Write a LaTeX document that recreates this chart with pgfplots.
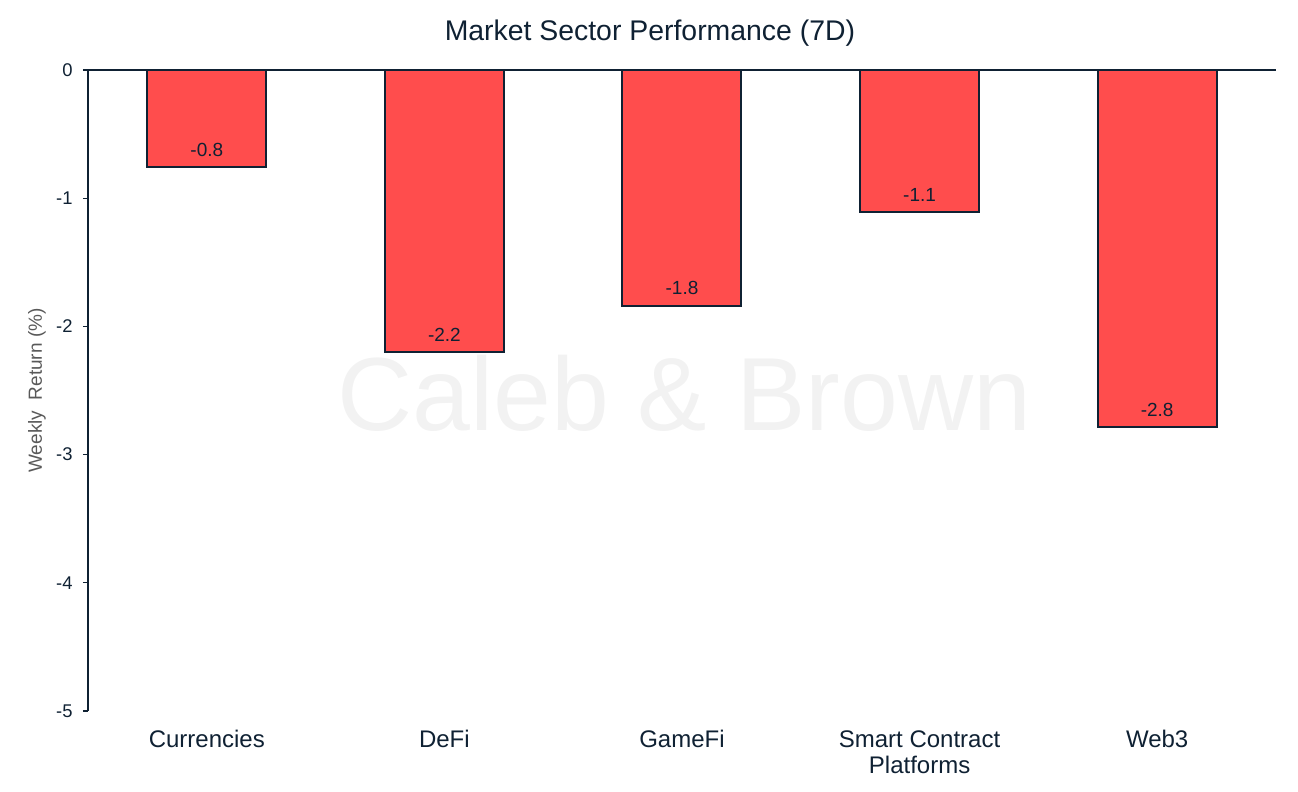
\documentclass[border=0pt]{standalone}
\usepackage{pgfplots}
\pgfplotsset{compat=1.18}
\usepackage{fontspec}
\setmainfont{Liberation Sans}
\definecolor{navy}{HTML}{0F2133}
\definecolor{barred}{HTML}{FF4D4D}
\definecolor{wm}{RGB}{242,242,242}
\definecolor{lblgray}{HTML}{595959}
\begin{document}
\begin{tikzpicture}
\begin{axis}[
    set layers,
    scale only axis,
    width=594pt,
    height=320.5pt,
    ybar,
    bar width=59.5pt,
    bar shift=0pt,
    xmin=-0.5, xmax=4.5,
    ymin=-5, ymax=0,
    xtick={0,...,4},
    xticklabels={Currencies, DeFi, GameFi, {Smart Contract\\Platforms}, Web3},
    ytick={-5,-4,...,0},
    axis y line*=left,
    axis x line*=bottom,
    x axis line style={draw=none},
    y axis line style={navy, line width=0.75pt},
    xtick style={draw=none},
    ytick style={navy, line width=0.6pt},
    tick align=outside,
    major tick length=2.5pt,
    /pgf/number format/assume math mode=true,
    x tick label style={font=\fontsize{12}{13}\selectfont, text=navy, align=center,
        anchor=north, inner sep=0pt, yshift=-7pt},
    y tick label style={font=\fontsize{9.2}{10}\selectfont, text=navy, anchor=east,
        inner sep=0pt, xshift=-5pt},
    ylabel={Weekly\ \ Return (\%)},
    ylabel style={at={(axis description cs:-0.043,0.5)}, anchor=center,
        font=\fontsize{9.5}{10}\selectfont, text=lblgray},
    nodes near coords,
    nodes near coords style={font=\fontsize{9.5}{10}\selectfont, text=navy,
        anchor=base, inner sep=0pt, yshift=5.5pt,
        /pgf/number format/fixed, /pgf/number format/fixed zerofill,
        /pgf/number format/precision=1},
    clip=false,
]
\node[on layer=axis background, text=wm, font=\fontsize{52}{58}\selectfont]
    at (axis cs:2.01,-2.52) {Caleb \& Brown};
\addplot[fill=barred, draw=navy, line width=1pt] coordinates {
    (0,-0.76)
    (1,-2.20)
    (2,-1.84)
    (3,-1.11)
    (4,-2.785)
};
\draw[navy, line width=0.75pt] (rel axis cs:0,1) -- (rel axis cs:1,1);
\node[anchor=base, text=navy, font=\fontsize{14.2}{16}\selectfont]
    at (rel axis cs:0.473,1) [yshift=14.5pt] {Market Sector Performance (7D)};
\end{axis}
\path (-44pt,-40.5pt) rectangle (605pt,355.5pt);
\end{tikzpicture}
\end{document}
